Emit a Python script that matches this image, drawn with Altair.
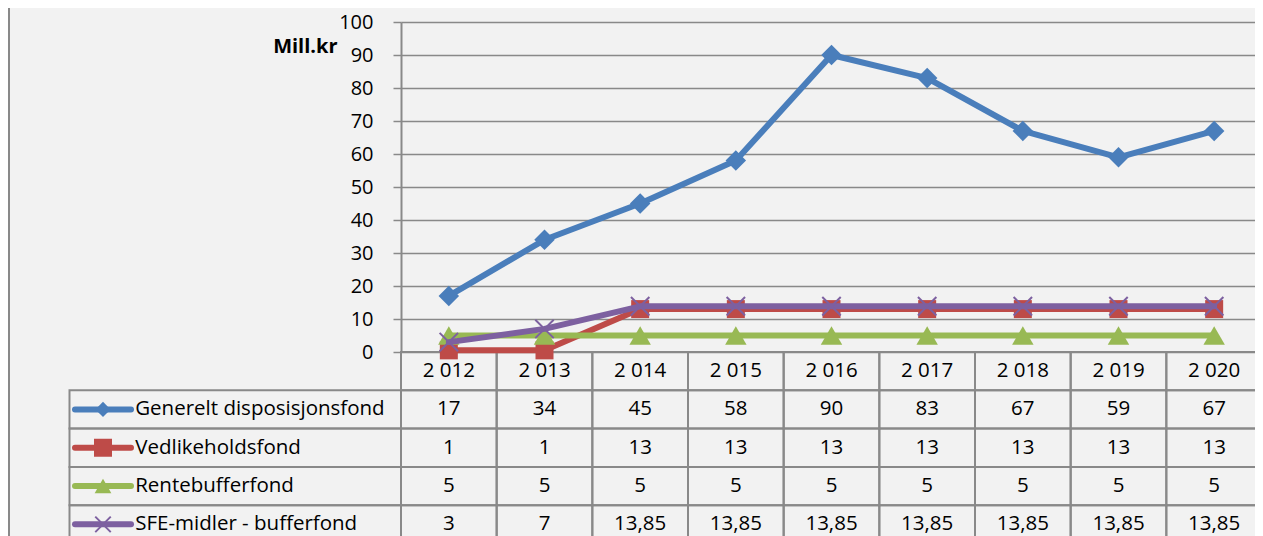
import altair as alt
import pandas as pd

# ---------------- data ----------------
years = ["2 012", "2 013", "2 014", "2 015", "2 016", "2 017", "2 018", "2 019", "2 020"]
series_names = [
    "Generelt disposisjonsfond",
    "Vedlikeholdsfond",
    "Rentebufferfond",
    "SFE-midler - bufferfond",
]

generelt = [17, 34, 45, 58, 90, 83, 67, 59, 67]
vedlikehold = [0.5, 0.5, 13, 13, 13, 13, 13, 13, 13]
rentebuffer = [5, 5, 5, 5, 5, 5, 5, 5, 5]
sfe = [3, 7, 13.85, 13.85, 13.85, 13.85, 13.85, 13.85, 13.85]

generelt_labels = ["17", "34", "45", "58", "90", "83", "67", "59", "67"]
vedlikehold_labels = ["1", "1", "13", "13", "13", "13", "13", "13", "13"]
rentebuffer_labels = ["5", "5", "5", "5", "5", "5", "5", "5", "5"]
sfe_labels = ["3", "7", "13,85", "13,85", "13,85", "13,85", "13,85", "13,85", "13,85"]

y_ticks = [0, 10, 20, 30, 40, 50, 60, 70, 80, 90, 100]
y_title = "Mill.kr"

# ---------------- styles ----------------
colors = ["#4A7EBB", "#BE4B48", "#98B954", "#7D60A0"]
shapes = ["diamond", "square", "triangle-up", "M-1,-1L1,1M-1,1L1,-1"]
marker_sizes = [420, 324, 460, 340]
legend_marker_sizes = [230, 324, 280, 240]
GRID = "#898989"
FONT = "Open Sans"
BG = "#F2F2F2"

ROW_H = 38.3
PLOT_H = 330
PLOT_W = 854          # visible part of the plot area (page is cut at the right)
SCALE_W = 861         # full width of the nine category columns
row_order = ["header"] + series_names
TABLE_RANGE = [PLOT_H, PLOT_H + ROW_H * len(row_order)]

# ---------------- tables ----------------
values_by_series = [generelt, vedlikehold, rentebuffer, sfe]
labels_by_series = [generelt_labels, vedlikehold_labels, rentebuffer_labels, sfe_labels]

long_rows = []
for name, vals, labs in zip(series_names, values_by_series, labels_by_series):
    for yr, v, lab in zip(years, vals, labs):
        long_rows.append({"series": name, "year": yr, "value": v, "label": lab})
df = pd.DataFrame(long_rows)

cell_rows = [{"row": "header", "year": yr, "text": yr} for yr in years]
for name, labs in zip(series_names, labels_by_series):
    for yr, lab in zip(years, labs):
        cell_rows.append({"row": name, "year": yr, "text": lab})
cells = pd.DataFrame(cell_rows)

legend_df = pd.DataFrame({"row": series_names, "series": series_names,
                          "col": ["legend"] * len(series_names)})

# ---------------- encodings ----------------
x_point = alt.X("year:N", sort=years,
                scale=alt.Scale(type="point", padding=0.5, range=[0, SCALE_W]), axis=None)
x_band = alt.X("year:N", sort=years,
               scale=alt.Scale(type="band", paddingInner=0, paddingOuter=0, range=[0, SCALE_W]),
               axis=None)
x_band_c = alt.X("year:N", sort=years,
                 scale=alt.Scale(type="band", paddingInner=0, paddingOuter=0, range=[0, SCALE_W]),
                 bandPosition=0.5, axis=None)
row_scale = alt.Scale(type="band", domain=row_order, range=TABLE_RANGE,
                      paddingInner=0, paddingOuter=0)
y_row = alt.Y("row:N", scale=row_scale, axis=None)
y_row_c = alt.Y("row:N", scale=row_scale, bandPosition=0.5, axis=None)
leg_scale = alt.Scale(type="band", domain=["legend"], range=[-331.5, 0],
                      paddingInner=0, paddingOuter=0)

value_axis = alt.Axis(
    values=y_ticks, title=y_title, titleAngle=0, titleX=-64, titleY=24,
    titleAlign="right", titleBaseline="middle", titleFont=FONT, titleFontSize=20,
    titleFontWeight="bold", titleColor="black",
    labelFont=FONT, labelFontSize=20, labelColor="black", labelPadding=20,
    tickSize=8, tickColor=GRID, tickWidth=1.5,
    domainColor=GRID, domainWidth=2,
    grid=True, gridColor=GRID, gridWidth=1.5,
)


def y_value(axis=None):
    if axis is None:
        return alt.Y("value:Q", scale=alt.Scale(domain=[0, 100]), axis=None)
    return alt.Y("value:Q", scale=alt.Scale(domain=[0, 100]), axis=axis)


layers = []

# frame line on the left
frame = alt.Chart(pd.DataFrame({"f": [0]})).mark_rule(color=GRID, strokeWidth=2).encode(
    x=alt.value(-392), y=alt.value(-20), y2=alt.value(600))
layers.append(frame)

# table grid cells
layers.append(alt.Chart(cells).mark_rect(filled=False, stroke=GRID, strokeWidth=2).encode(
    x=x_band, y=y_row))
layers.append(alt.Chart(legend_df).mark_rect(filled=False, stroke=GRID, strokeWidth=2).encode(
    x=alt.X("col:N", scale=leg_scale, axis=None), y=y_row))

# series lines + markers
for i, name in enumerate(series_names):
    base = alt.Chart(df).transform_filter(alt.datum.series == name)
    line = base.mark_line(strokeWidth=6, color=colors[i], strokeJoin="round",
                          strokeCap="round").encode(
        x=x_point, y=y_value(value_axis if i == 0 else None))
    if shapes[i].startswith("M"):
        pts = base.mark_point(shape=shapes[i], filled=False, size=marker_sizes[i],
                              strokeWidth=2, color=colors[i], opacity=1)
    else:
        pts = base.mark_point(shape=shapes[i], filled=True, size=marker_sizes[i],
                              color=colors[i], opacity=1)
    layers.append(line)
    layers.append(pts.encode(x=x_point, y=y_value()))

# table texts
layers.append(alt.Chart(cells).mark_text(font=FONT, fontSize=20.5, color="black",
                                         align="center", baseline="middle").encode(
    x=x_band_c, y=y_row_c, text="text:N"))

# legend column
for i, name in enumerate(series_names):
    lb = alt.Chart(legend_df).transform_filter(alt.datum.series == name)
    layers.append(lb.mark_rule(strokeWidth=6, color=colors[i], strokeCap="round").encode(
        x=alt.value(-326), x2=alt.value(-270), y=y_row_c))
    if shapes[i].startswith("M"):
        lp = lb.mark_point(shape=shapes[i], filled=False, size=legend_marker_sizes[i],
                           strokeWidth=2, color=colors[i], opacity=1)
    else:
        lp = lb.mark_point(shape=shapes[i], filled=True, size=legend_marker_sizes[i],
                           color=colors[i], opacity=1)
    layers.append(lp.encode(x=alt.value(-298), y=y_row_c))

layers.append(alt.Chart(legend_df).mark_text(font=FONT, fontSize=20.5, color="black",
                                             align="left", baseline="middle", dx=65.7).encode(
    x=alt.X("col:N", scale=leg_scale, bandPosition=0, axis=None), y=y_row_c, text="series:N"))

chart = alt.layer(*layers).resolve_scale(x="independent", y="independent").properties(
    width=PLOT_W, height=PLOT_H,
    autosize=alt.AutoSizeParams(type="none"),
    padding={"left": 393, "top": 14, "right": 0, "bottom": 184},
).configure(background=BG).configure_view(strokeWidth=0)

chart.save("out.html", embed_options={"renderer": "svg", "actions": False})
